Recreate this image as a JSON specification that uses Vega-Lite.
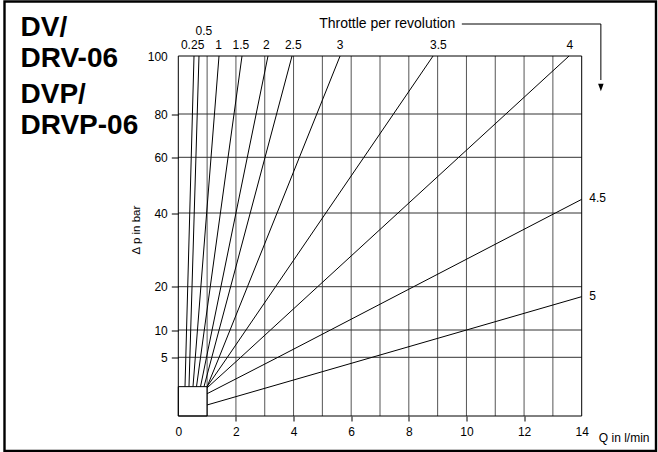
{
  "$schema": "https://vega.github.io/schema/vega-lite/v6.json",
  "width": 651.5,
  "height": 449.5,
  "autosize": {"type": "none"},
  "padding": {"left": 4.5, "top": 1.5, "right": 2, "bottom": 1},
  "background": "white",
  "config": {
    "view": {"stroke": "black", "strokeWidth": 2.4},
    "font": "Liberation Sans",
    "axis": {"labelFont": "Liberation Sans", "titleFont": "Liberation Sans", "labelColor": "black", "titleColor": "black", "labelFontSize": 12, "titleFontSize": 12, "titleFontWeight": "normal", "domain": false, "grid": false, "labelFlush": false, "labelOverlap": false}
  },
  "title": {
    "text": ["DV/", "DRV-06"],
    "subtitle": ["DVP/", "DRVP-06"],
    "anchor": "start", "frame": "group", "orient": "top", "offset": 0,
    "dx": 16, "dy": 138.5,
    "font": "Liberation Sans", "fontSize": 28, "fontWeight": "bold", "color": "black", "lineHeight": 31,
    "subtitleFont": "Liberation Sans", "subtitleFontSize": 28, "subtitleFontWeight": "bold", "subtitleColor": "black", "subtitleLineHeight": 31, "subtitlePadding": 8
  },
  "resolve": {"axis": {"x": "independent", "y": "independent"}},
  "datasets": {
    "vgrid": [{"x": 1}, {"x": 2}, {"x": 3}, {"x": 4}, {"x": 5}, {"x": 6}, {"x": 7}, {"x": 8}, {"x": 9}, {"x": 10}, {"x": 11}, {"x": 12}, {"x": 13}],
    "hgrid": [{"y": 5}, {"y": 10}, {"y": 20}, {"y": 40}, {"y": 60}, {"y": 80}],
    "frame": [{"x": 0, "x2": 14, "y": 0, "y2": 100}],
    "box": [{"x": 0, "x2": 1, "y": 0, "y2": 2.5}],
    "lines": [
      {"r": "0.25", "x": 0.233, "y": 2.5}, {"r": "0.25", "x": 0.261, "y": 5}, {"r": "0.25", "x": 0.286, "y": 10}, {"r": "0.25", "x": 0.327, "y": 20}, {"r": "0.25", "x": 0.397, "y": 40}, {"r": "0.25", "x": 0.449, "y": 60}, {"r": "0.25", "x": 0.49, "y": 80}, {"r": "0.25", "x": 0.545, "y": 100},
      {"r": "0.5", "x": 0.371, "y": 2.5}, {"r": "0.5", "x": 0.402, "y": 5}, {"r": "0.5", "x": 0.43, "y": 10}, {"r": "0.5", "x": 0.476, "y": 20}, {"r": "0.5", "x": 0.553, "y": 40}, {"r": "0.5", "x": 0.612, "y": 60}, {"r": "0.5", "x": 0.657, "y": 80}, {"r": "0.5", "x": 0.718, "y": 100},
      {"r": "1", "x": 0.51, "y": 2.5}, {"r": "1", "x": 0.59, "y": 5}, {"r": "1", "x": 0.665, "y": 10}, {"r": "1", "x": 0.783, "y": 20}, {"r": "1", "x": 0.984, "y": 40}, {"r": "1", "x": 1.136, "y": 60}, {"r": "1", "x": 1.255, "y": 80}, {"r": "1", "x": 1.413, "y": 100},
      {"r": "1.5", "x": 0.632, "y": 2.5}, {"r": "1.5", "x": 0.772, "y": 5}, {"r": "1.5", "x": 0.902, "y": 10}, {"r": "1.5", "x": 1.109, "y": 20}, {"r": "1.5", "x": 1.461, "y": 40}, {"r": "1.5", "x": 1.727, "y": 60}, {"r": "1.5", "x": 1.934, "y": 80}, {"r": "1.5", "x": 2.211, "y": 100},
      {"r": "2", "x": 0.771, "y": 2.5}, {"r": "2", "x": 0.979, "y": 5}, {"r": "2", "x": 1.172, "y": 10}, {"r": "2", "x": 1.479, "y": 20}, {"r": "2", "x": 2.001, "y": 40}, {"r": "2", "x": 2.395, "y": 60}, {"r": "2", "x": 2.702, "y": 80}, {"r": "2", "x": 3.113, "y": 100},
      {"r": "2.5", "x": 0.892, "y": 2.5}, {"r": "2.5", "x": 1.163, "y": 5}, {"r": "2.5", "x": 1.415, "y": 10}, {"r": "2.5", "x": 1.816, "y": 20}, {"r": "2.5", "x": 2.496, "y": 40}, {"r": "2.5", "x": 3.011, "y": 60}, {"r": "2.5", "x": 3.411, "y": 80}, {"r": "2.5", "x": 3.947, "y": 100},
      {"r": "3", "x": 1.0, "y": 2.5}, {"r": "3", "x": 1.416, "y": 5}, {"r": "3", "x": 1.796, "y": 10}, {"r": "3", "x": 2.4, "y": 20}, {"r": "3", "x": 3.427, "y": 40}, {"r": "3", "x": 4.203, "y": 60}, {"r": "3", "x": 4.807, "y": 80}, {"r": "3", "x": 5.615, "y": 100},
      {"r": "3.5", "x": 1.0, "y": 2.5}, {"r": "3.5", "x": 1.703, "y": 5}, {"r": "3.5", "x": 2.349, "y": 10}, {"r": "3.5", "x": 3.375, "y": 20}, {"r": "3.5", "x": 5.121, "y": 40}, {"r": "3.5", "x": 6.441, "y": 60}, {"r": "3.5", "x": 7.467, "y": 80}, {"r": "3.5", "x": 8.841, "y": 100},
      {"r": "4", "x": 1.0, "y": 2.4}, {"r": "4", "x": 2.168, "y": 5}, {"r": "4", "x": 3.2, "y": 10}, {"r": "4", "x": 4.837, "y": 20}, {"r": "4", "x": 7.624, "y": 40}, {"r": "4", "x": 9.731, "y": 60}, {"r": "4", "x": 11.368, "y": 80}, {"r": "4", "x": 13.561, "y": 100},
      {"r": "4.5", "x": 1.0, "y": 1.9}, {"r": "4.5", "x": 3.457, "y": 5}, {"r": "4.5", "x": 5.28, "y": 10}, {"r": "4.5", "x": 8.168, "y": 20}, {"r": "4.5", "x": 13.086, "y": 40}, {"r": "4.5", "x": 14, "y": 44.9},
      {"r": "5", "x": 1.0, "y": 0.94}, {"r": "5", "x": 6.727, "y": 5}, {"r": "5", "x": 10.003, "y": 10}, {"r": "5", "x": 14, "y": 17.7}
    ],
    "toplabels": [
      {"label": "0.25", "x": 0.497}, {"label": "0.5", "x": 0.885}, {"label": "1", "x": 1.402}, {"label": "1.5", "x": 2.169}, {"label": "2", "x": 3.054}, {"label": "2.5", "x": 3.99}, {"label": "3", "x": 5.613}, {"label": "3.5", "x": 9.025}, {"label": "4", "x": 13.585}
    ],
    "rightlabels": [{"label": "4.5", "x": 14, "y": 44.9}, {"label": "5", "x": 14, "y": 17.7}],
    "note": [{"label": "Throttle per revolution", "x": 9.615, "y": 109.55}],
    "arrow": [{"o": 1, "x": 9.84, "y": 111.03}, {"o": 2, "x": 14.665, "y": 111.03}, {"o": 3, "x": 14.665, "y": 91.72}],
    "arrowhead": [{"x": 14.665, "y": 89.14}]
  },
  "layer": [
    {"data": {"name": "vgrid"}, "mark": {"type": "rule", "color": "#555555", "strokeWidth": 1},
     "encoding": {
       "x": {"field": "x", "type": "quantitative", "scale": {"domain": [0, 14], "range": [173.8, 577.2], "nice": false, "zero": false}, "axis": null},
       "y": {"datum": 0, "type": "quantitative", "scale": {"domain": [0, 5, 10, 20, 40, 60, 80, 100], "range": [414.5, 355.8, 328.5, 285.2, 211.5, 155.8, 112.5, 54.5], "nice": false, "zero": false}, "axis": null},
       "y2": {"datum": 100}}},
    {"data": {"name": "hgrid"}, "mark": {"type": "rule", "color": "#333333", "strokeWidth": 1},
     "encoding": {
       "y": {"field": "y", "type": "quantitative", "scale": {"domain": [0, 5, 10, 20, 40, 60, 80, 100], "range": [414.5, 355.8, 328.5, 285.2, 211.5, 155.8, 112.5, 54.5], "nice": false, "zero": false}, "axis": null},
       "x": {"datum": 0, "type": "quantitative", "scale": {"domain": [0, 14], "range": [173.8, 577.2], "nice": false, "zero": false}, "axis": null},
       "x2": {"datum": 14}}},
    {"data": {"name": "frame"}, "mark": {"type": "rect", "fill": null, "fillOpacity": 0, "stroke": "black", "strokeWidth": 1},
     "encoding": {
       "x": {"field": "x", "type": "quantitative", "scale": {"domain": [0, 14], "range": [173.8, 577.2], "nice": false, "zero": false}, "axis": null},
       "x2": {"field": "x2"},
       "y": {"field": "y", "type": "quantitative", "scale": {"domain": [0, 5, 10, 20, 40, 60, 80, 100], "range": [414.5, 355.8, 328.5, 285.2, 211.5, 155.8, 112.5, 54.5], "nice": false, "zero": false}, "axis": null},
       "y2": {"field": "y2"}}},
    {"data": {"name": "box"}, "mark": {"type": "rect", "fill": null, "fillOpacity": 0, "stroke": "black", "strokeWidth": 1},
     "encoding": {
       "x": {"field": "x", "type": "quantitative", "scale": {"domain": [0, 14], "range": [173.8, 577.2], "nice": false, "zero": false}, "axis": null},
       "x2": {"field": "x2"},
       "y": {"field": "y", "type": "quantitative", "scale": {"domain": [0, 5, 10, 20, 40, 60, 80, 100], "range": [414.5, 355.8, 328.5, 285.2, 211.5, 155.8, 112.5, 54.5], "nice": false, "zero": false}, "axis": null},
       "y2": {"field": "y2"}}},
    {"data": {"name": "lines"}, "mark": {"type": "line", "color": "black", "strokeWidth": 1},
     "encoding": {
       "x": {"field": "x", "type": "quantitative", "scale": {"domain": [0, 14], "range": [173.8, 577.2], "nice": false, "zero": false},
         "axis": {"values": [0, 2, 4, 6, 8, 10, 12, 14], "offset": -35, "tickSize": 5,
           "tickColor": {"condition": {"test": "datum.value == 0 || datum.value == 14", "value": "transparent"}, "value": "black"},
           "labelPadding": 5, "title": "Q in l/min", "titleX": 593.8, "titleY": 21, "titleAlign": "left", "titleBaseline": "middle", "titleAngle": 0}},
       "y": {"field": "y", "type": "quantitative", "scale": {"domain": [0, 5, 10, 20, 40, 60, 80, 100], "range": [414.5, 355.8, 328.5, 285.2, 211.5, 155.8, 112.5, 54.5], "nice": false, "zero": false},
         "axis": {"values": [5, 10, 20, 40, 60, 80, 100], "offset": -173.8, "tickSize": 7,
           "tickColor": {"condition": {"test": "datum.value == 100", "value": "transparent"}, "value": "black"},
           "labelPadding": 4, "title": "∆ p in bar", "titleX": -42, "titleY": 228, "titleFontSize": 11.5, "titleBaseline": "middle", "titleAlign": "center"}},
       "detail": {"field": "r"}}},
    {"data": {"name": "toplabels"}, "transform": [{"filter": "datum.label != '0.5'"}], "mark": {"type": "text", "align": "center", "baseline": "alphabetic", "dy": -6.7, "fontSize": 12, "color": "black"},
     "encoding": {
       "x": {"field": "x", "type": "quantitative", "scale": {"domain": [0, 14], "range": [173.8, 577.2], "nice": false, "zero": false}, "axis": null},
       "y": {"datum": 100, "type": "quantitative", "scale": {"domain": [0, 5, 10, 20, 40, 60, 80, 100], "range": [414.5, 355.8, 328.5, 285.2, 211.5, 155.8, 112.5, 54.5], "nice": false, "zero": false}, "axis": null},
       "text": {"field": "label"}}},
    {"data": {"name": "toplabels"}, "transform": [{"filter": "datum.label == '0.5'"}], "mark": {"type": "text", "align": "center", "baseline": "alphabetic", "dy": -21, "fontSize": 12, "color": "black"},
     "encoding": {
       "x": {"field": "x", "type": "quantitative", "scale": {"domain": [0, 14], "range": [173.8, 577.2], "nice": false, "zero": false}, "axis": null},
       "y": {"datum": 100, "type": "quantitative", "scale": {"domain": [0, 5, 10, 20, 40, 60, 80, 100], "range": [414.5, 355.8, 328.5, 285.2, 211.5, 155.8, 112.5, 54.5], "nice": false, "zero": false}, "axis": null},
       "text": {"field": "label"}}},
    {"data": {"name": "rightlabels"}, "mark": {"type": "text", "align": "left", "baseline": "middle", "dx": 7.6, "dy": -1, "fontSize": 12, "color": "black"},
     "encoding": {
       "x": {"field": "x", "type": "quantitative", "scale": {"domain": [0, 14], "range": [173.8, 577.2], "nice": false, "zero": false}, "axis": null},
       "y": {"field": "y", "type": "quantitative", "scale": {"domain": [0, 5, 10, 20, 40, 60, 80, 100], "range": [414.5, 355.8, 328.5, 285.2, 211.5, 155.8, 112.5, 54.5], "nice": false, "zero": false}, "axis": null},
       "text": {"field": "label"}}},
    {"data": {"name": "note"}, "mark": {"type": "text", "align": "right", "baseline": "alphabetic", "fontSize": 14, "color": "black"},
     "encoding": {
       "x": {"field": "x", "type": "quantitative", "scale": {"domain": [0, 14], "range": [173.8, 577.2], "nice": false, "zero": false}, "axis": null},
       "y": {"field": "y", "type": "quantitative", "scale": {"domain": [0, 5, 10, 20, 40, 60, 80, 100], "range": [414.5, 355.8, 328.5, 285.2, 211.5, 155.8, 112.5, 54.5], "nice": false, "zero": false}, "axis": null},
       "text": {"field": "label"}}},
    {"data": {"name": "arrow"}, "mark": {"type": "line", "color": "black", "strokeWidth": 1},
     "encoding": {
       "x": {"field": "x", "type": "quantitative", "scale": {"domain": [0, 14], "range": [173.8, 577.2], "nice": false, "zero": false}, "axis": null},
       "y": {"field": "y", "type": "quantitative", "scale": {"domain": [0, 5, 10, 20, 40, 60, 80, 100], "range": [414.5, 355.8, 328.5, 285.2, 211.5, 155.8, 112.5, 54.5], "nice": false, "zero": false}, "axis": null},
       "order": {"field": "o"}}},
    {"data": {"name": "arrowhead"}, "mark": {"type": "point", "filled": true, "color": "black", "opacity": 1, "shape": "M-0.5,-0.68L0.5,-0.68L0,0.68Z", "size": 121, "strokeWidth": 0},
     "encoding": {
       "x": {"field": "x", "type": "quantitative", "scale": {"domain": [0, 14], "range": [173.8, 577.2], "nice": false, "zero": false}, "axis": null},
       "y": {"field": "y", "type": "quantitative", "scale": {"domain": [0, 5, 10, 20, 40, 60, 80, 100], "range": [414.5, 355.8, 328.5, 285.2, 211.5, 155.8, 112.5, 54.5], "nice": false, "zero": false}, "axis": null}}}
  ]
}
